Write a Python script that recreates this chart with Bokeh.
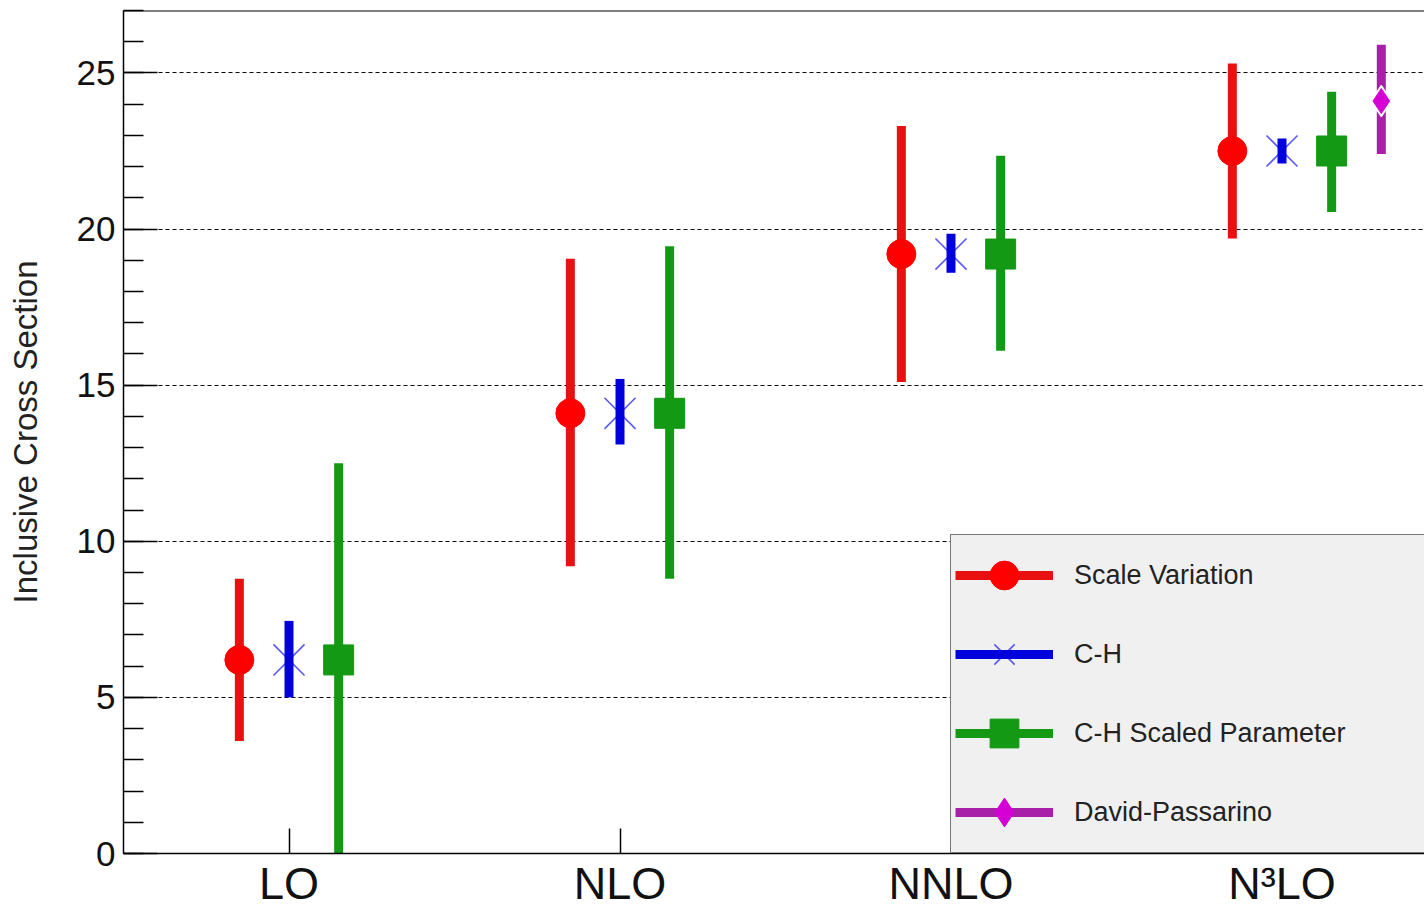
from bokeh.plotting import figure
from bokeh.models import (Range1d, FixedTicker, SingleIntervalTicker, Legend, LegendItem, Span)
from bokeh.embed import file_html
from bokeh.resources import INLINE

# ---- data ----
categories = ["LO", "NLO", "NNLO", "N³LO"]
cat_pos = [0.5, 1.5, 2.5, 3.5]

scale_val = [6.2, 14.1, 19.2, 22.5]
scale_lo = [3.6, 9.2, 15.1, 19.7]
scale_hi = [8.8, 19.05, 23.3, 25.3]

ch_val = [6.2, 14.1, 19.2, 22.5]
ch_lo = [5.0, 13.1, 18.6, 22.1]
ch_hi = [7.45, 15.2, 19.85, 22.9]

chs_val = [6.2, 14.1, 19.2, 22.5]
chs_lo = [0.0, 8.8, 16.1, 20.55]
chs_hi = [12.5, 19.45, 22.35, 24.4]

dp_cat = [3.5]
dp_val = [24.1]
dp_lo = [22.4]
dp_hi = [25.9]

off_scale, off_ch, off_chs, off_dp = -0.15, 0.0, 0.15, 0.3

FONT = "Liberation Sans"
frame_w, frame_h = 1301, 843
unit = 331.0

p = figure(frame_width=frame_w, frame_height=frame_h, output_backend="svg", toolbar_location=None,
           x_range=Range1d(0, frame_w / unit), y_range=Range1d(0, 27.0),
           min_border_left=123, min_border_right=0, min_border_top=10, min_border_bottom=58)
p.outline_line_color = None
p.background_fill_color = "white"

# axes
xa = p.xaxis[0]
xa.ticker = FixedTicker(ticks=cat_pos)
xa.major_label_overrides = {c: l for c, l in zip(cat_pos, categories)}
xa.major_tick_in = 25
xa.major_tick_out = 0
xa.minor_tick_line_color = None
xa.major_tick_line_color = "black"
xa.major_tick_line_width = 1.5
xa.axis_line_color = "black"
xa.axis_line_width = 1.5
xa.major_label_text_font = FONT
xa.major_label_text_font_size = "45px"
xa.major_label_text_color = "#111111"
xa.major_label_standoff = 4

ya = p.yaxis[0]
ya.ticker = SingleIntervalTicker(interval=5, num_minor_ticks=5)
ya.major_tick_in = 34
ya.major_tick_out = 0
ya.minor_tick_in = 20
ya.minor_tick_out = 0
ya.major_tick_line_width = 1.5
ya.minor_tick_line_width = 1.5
ya.major_tick_line_color = "black"
ya.minor_tick_line_color = "black"
ya.axis_line_color = "black"
ya.axis_line_width = 1.5
ya.major_label_text_font = FONT
ya.major_label_text_font_size = "35px"
ya.major_label_text_color = "#111111"
ya.major_label_standoff = 8
ya.axis_label = "Inclusive Cross Section"
ya.axis_label_text_font = FONT
ya.axis_label_text_font_size = "33px"
ya.axis_label_text_font_style = "normal"
ya.axis_label_text_color = "#222222"
ya.axis_label_standoff = 30

p.xgrid.grid_line_color = None
p.ygrid.grid_line_color = "black"
p.ygrid.grid_line_dash = "4 3"
p.ygrid.grid_line_width = 1.2

p.add_layout(Span(location=27.0, dimension="width", line_color="black", line_width=2))

# ---- series ----
xs_scale = [c + off_scale for c in cat_pos]
xs_ch = [c + off_ch for c in cat_pos]
xs_chs = [c + off_chs for c in cat_pos]
xs_dp = [c + off_dp for c in dp_cat]

r_seg = p.segment(x0=xs_scale, y0=scale_lo, x1=xs_scale, y1=scale_hi, line_color="#e81010", line_width=9)
r_mk = p.scatter(x=xs_scale, y=scale_val, marker="circle", size=29, fill_color="#ff0000", line_color="#ff0000")

b_mk = p.scatter(x=xs_ch, y=ch_val, marker="x", size=44, line_color="#5a5af0", line_width=1.6)
b_seg = p.segment(x0=xs_ch, y0=ch_lo, x1=xs_ch, y1=ch_hi, line_color="#0000dd", line_width=9)

g_seg = p.segment(x0=xs_chs, y0=chs_lo, x1=xs_chs, y1=chs_hi, line_color="#139913", line_width=9)
g_mk = p.scatter(x=xs_chs, y=chs_val, marker="square", size=30, fill_color="#139913", line_color="#139913")

m_seg = p.segment(x0=xs_dp, y0=dp_lo, x1=xs_dp, y1=dp_hi, line_color="#a81fa8", line_width=9)
p.scatter(x=xs_dp, y=dp_val, marker="diamond", size=32, fill_color="white", line_color="white")
m_mk = p.scatter(x=xs_dp, y=dp_val, marker="diamond", size=25, fill_color="#d400d4", line_color="#d400d4")

legend = Legend(items=[
    LegendItem(label="Scale Variation", renderers=[r_seg, r_mk]),
    LegendItem(label="C-H", renderers=[b_mk, b_seg]),
    LegendItem(label="C-H Scaled Parameter", renderers=[g_seg, g_mk]),
    LegendItem(label="David-Passarino", renderers=[m_seg, m_mk]),
], location=(827, 0))
legend.border_line_color = "black"
legend.border_line_width = 1.5
legend.background_fill_color = "#f0f0f0"
legend.background_fill_alpha = 1.0
legend.padding = 4
legend.spacing = 7
legend.margin = 0
legend.glyph_width = 98
legend.glyph_height = 72
legend.label_height = 72
legend.label_standoff = 21
legend.label_width = 420
legend.label_text_font = FONT
legend.label_text_font_size = "27px"
legend.label_text_color = "#222222"
p.add_layout(legend, "center")

open("out.html", "w").write(file_html(p, INLINE))
